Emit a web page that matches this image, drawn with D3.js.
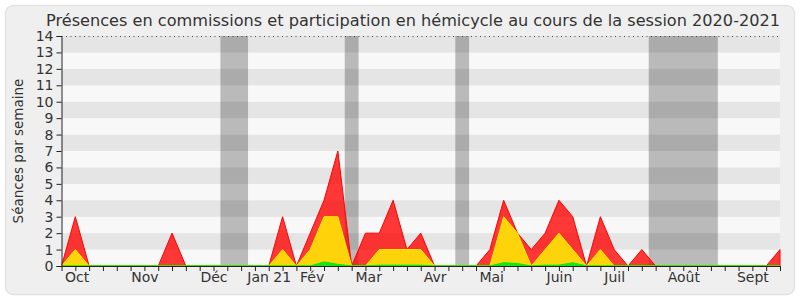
<!DOCTYPE html>
<html>
<head>
<meta charset="utf-8">
<script src="https://cdn.jsdelivr.net/npm/d3@7"></script>
<style>
  body { margin: 0; background: #fff; }
  svg { display: block; font-family: "DejaVu Sans", sans-serif; }
</style>
</head>
<body>
<div id="chart"></div>
<script>
// one value per week of the session (week 0 .. 52)
const presencesTotal = [0,3,0,0,0,0,0,0,2,0, 0,0,0,0,0,0,3,0,2,4, 7,0,2,2,4,1,2,0,0,0, 0,1,4,2,1,2,4,3,0,3, 1,0,1,0,0,0,0,0,0,0, 0,0,1];
const presencesCommission = [0,1,0,0,0,0,0,0,0,0, 0,0,0,0,0,0,1,0,1,3, 3,0,0,1,1,1,1,0,0,0, 0,0,3,2,0,1,2,1,0,1, 0,0,0,0,0,0,0,0,0,0, 0,0,0];
const interventions = [0,0,0,0,0,0,0,0,0,0, 0,0,0,0,0,0,0,0,0,0.25, 0.1,0,0,0.05,0.05,0.05,0.05,0,0,0, 0,0,0.2,0.15,0,0.05,0.05,0.2,0,0, 0,0,0,0,0,0,0,0,0,0, 0,0,0];

// parliamentary breaks, in weeks
const vacances = [[11.5, 13.5], [20.5, 21.5], [28.5, 29.5], [42.5, 47.5]];

const monthLabels = ["Oct", "Nov", "Déc", "Jan 21", "Fév", "Mar", "Avr", "Mai", "Juin", "Juil", "Août", "Sept"];
const monthWeeks = [1.1, 6, 11, 15, 18.1, 22.2, 27, 31.1, 36, 40, 45, 50];
const yTicks = d3.range(0, 15);

const W = 800, H = 300;
const MARGIN = { top: 36, right: 20, bottom: 34, left: 61.5 };

const svg = d3.select("#chart").append("svg")
    .attr("width", W)
    .attr("height", H);

// frame
svg.append("rect")
    .attr("x", 5.5).attr("y", 5.5)
    .attr("width", W - 11).attr("height", H - 11)
    .attr("rx", 8)
    .attr("fill", "#efefef")
    .attr("stroke", "#e2e2e2")
    .attr("stroke-width", 1.5);

const x = d3.scaleLinear()
    .domain([0, presencesTotal.length - 1])
    .range([MARGIN.left, W - MARGIN.right]);
const y = d3.scaleLinear()
    .domain([0, 14])
    .range([H - MARGIN.bottom, MARGIN.top]);

// stripes
svg.append("g").selectAll("rect")
    .data(d3.range(0, 14))
    .join("rect")
    .attr("x", x(0))
    .attr("y", d => y(d + 1))
    .attr("width", x(52) - x(0))
    .attr("height", d => y(d) - y(d + 1))
    .attr("fill", d => d % 2 === 1 ? "#e5e5e5" : "#f8f8f8");

// vacations
svg.append("g").selectAll("rect")
    .data(vacances)
    .join("rect")
    .attr("x", d => x(d[0]))
    .attr("y", y(14))
    .attr("width", d => x(d[1]) - x(d[0]))
    .attr("height", y(0) - y(14))
    .attr("fill", "#000")
    .attr("fill-opacity", 0.25);

const area = d3.area()
    .x((d, i) => x(i))
    .y0(y(0))
    .y1(d => y(d));

svg.append("path")
    .datum(presencesTotal)
    .attr("d", area)
    .attr("fill", "rgba(255,0,0,0.78)")
    .attr("stroke", "#ff0000")
    .attr("stroke-width", 1);

svg.append("path")
    .datum(presencesCommission)
    .attr("d", area)
    .attr("fill", "#ffd30a")
    .attr("stroke", "#ffee00")
    .attr("stroke-width", 1);

svg.append("path")
    .datum(interventions)
    .attr("d", area)
    .attr("fill", "#22dd22")
    .attr("stroke", "#00ee00")
    .attr("stroke-width", 1);

// dotted top line
svg.append("line")
    .attr("x1", x(0)).attr("x2", x(52))
    .attr("y1", y(14) + 0.5).attr("y2", y(14) + 0.5)
    .attr("stroke", "#444")
    .attr("stroke-dasharray", "1,3.5");

// axes
const yAxis = svg.append("g")
    .attr("transform", `translate(${x(0)},0)`)
    .call(d3.axisLeft(y).tickValues(yTicks).tickSize(5).tickSizeOuter(5).tickPadding(3));

const xAxis = svg.append("g")
    .attr("transform", `translate(0,${y(0)})`)
    .call(d3.axisBottom(x).tickValues(d3.range(0, 53)).tickFormat("").tickSize(5).tickSizeOuter(0));

const monthAxis = svg.append("g")
    .attr("transform", `translate(0,${y(0)})`)
    .call(d3.axisBottom(x).tickValues(monthWeeks)
        .tickFormat((d, i) => monthLabels[i]).tickSize(0).tickPadding(6));
monthAxis.select(".domain").remove();

[yAxis, xAxis].forEach(g => {
    g.select(".domain").attr("stroke", "#222");
    g.selectAll(".tick line").attr("stroke", "#222");
});
svg.selectAll(".tick text")
    .attr("fill", "#333")
    .style("font-size", "14px")
    .style("font-family", "DejaVu Sans, sans-serif");

// y label
svg.append("text")
    .attr("transform", `translate(23, ${(y(0) + y(14)) / 2}) rotate(-90)`)
    .attr("text-anchor", "middle")
    .attr("fill", "#333")
    .style("font-size", "13.5px")
    .text("Séances par semaine");

// title
svg.append("text")
    .attr("x", 413)
    .attr("y", 26)
    .attr("text-anchor", "middle")
    .attr("fill", "#333")
    .style("font-size", "16.5px")
    .attr("textLength", 734)
    .attr("lengthAdjust", "spacingAndGlyphs")
    .text("Présences en commissions et participation en hémicycle au cours de la session 2020-2021");
</script>
</body>
</html>
